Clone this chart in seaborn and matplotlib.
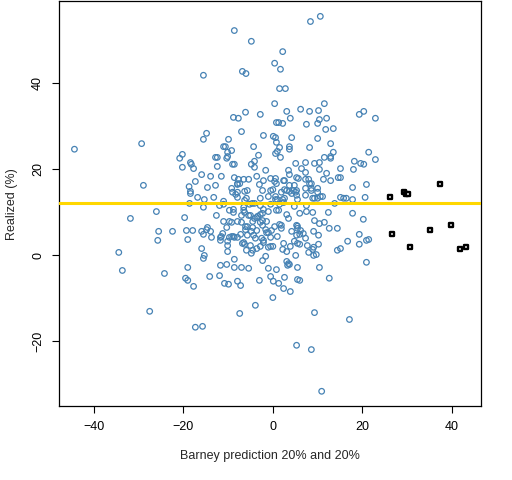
import numpy as np
import pandas as pd
import seaborn as sns
import matplotlib.pyplot as plt

# blue circles: (prediction, realized)
pred_x = [10.6, 8.4, -8.6, -4.8, 2.2, 0.4, 1.7, -6.8, -6.0, -15.5, 1.5, 2.8, 0.4, 11.5,
          6.2, 8.2, 10.2, 20.3, -6.1, 3.1, -2.8, 19.3, -8.8, -7.7, 3.9, 12.0, 10.4, 22.9,
          0.8, 1.3, 2.2, 7.5, 10.0, 11.8, 13.5, -7.0, -14.8, -2.1, 0.1, 0.6, 4.2, 10.0,
          -15.5, -9.9, -29.3, 12.9, 0.8, -11.0, -10.6, -4.3, 3.7, 3.7, 1.5, -44.3, 8.2,
          -9.2, -10.1, 13.5, 21.4, 0.6, 1.0, -20.2, -3.2, -10.1, -12.8, -12.4, 1.7, 11.5,
          12.9, 12.9, -20.8, -10.3, 22.9, -18.4, -18.2, 7.3, -4.1, 5.1, 18.2, 9.3, 10.4,
          -4.8, -9.0, -8.6, 19.6, 20.3, -12.4, -20.2, -4.1, -17.7, 6.4, 15.1, 10.4, 18.0,
          -1.6, 3.5, 7.3, 12.0, -15.9, 3.7, -13.9, -11.5, -3.6, -8.6, 14.6, 15.1, -0.5,
          0.6, 5.7, 5.3, -5.4, -6.5, -7.7, 7.3, 8.0, 11.3, -2.1, 2.4, 2.6, 12.9, -17.3,
          0.4, -7.9, -7.4, 0.8, 8.2, 8.6, -7.9, -3.0, 20.9, 3.7, 4.8, -18.7, -14.6, 17.8,
          -12.8, -9.2, -5.7, -6.3, 7.3, 8.6, 10.0, 0.0, -0.5, 2.6, 3.1, -2.3, 4.6, 5.3,
          8.6, -18.4, 3.7, -9.0, -7.9, 1.9, 5.1, 10.0, -18.4, 4.2, -8.3, 7.3, 5.3, -1.0,
          0.6, 10.6, 11.1, -16.8, -15.3, -13.2, 15.1, 15.8, 16.4, 20.6, -5.9, -7.9, -2.8,
          2.6, 2.2, 8.9, 9.3, 10.0, 0.6, 1.0, 17.8, -6.3, 5.5, -11.0, 2.4, -18.6, 13.8,
          -4.6, -4.1, -5.2, 1.5, -11.0, -11.9, -2.8, -0.5, 4.8, 7.5, -15.5, -6.5, -8.8,
          -9.7, -2.1, 0.8, 1.3, -6.5, -6.3, -26.0, -1.0, 7.5, 8.9, 12.4, 17.8, -8.8, 6.0,
          3.1, -2.3, -12.6, -7.0, -5.4, -5.0, -3.4, -2.8, -19.7, -3.6, -4.1, -31.8, 3.5,
          20.2, 9.3, -11.0, -9.7, -9.2, -7.9, -7.0, -4.5, -1.4, -2.8, -2.3, 11.5, 10.4,
          1.5, 1.9, 5.3, 5.5, -2.3, -6.1, -5.7, -10.3, -14.6, -4.5, 1.9, 0.4, 12.6, 14.4,
          5.5, -6.1, -1.6, -19.3, -17.9, -3.6, 6.2, -25.5, -22.4, -15.9, -13.9, -14.8,
          -4.8, 4.2, 9.1, -1.4, -1.0, -0.3, -11.2, 6.8, -15.5, -7.2, 6.0, 19.3, -4.3,
          -5.7, 10.2, -11.5, -9.2, -8.8, -9.7, 1.0, 5.3, -13.7, -11.7, -8.6, -7.9, 7.3,
          -2.5, -3.9, -19.0, 21.4, 20.9, -25.7, -11.7, -2.1, -0.5, -10.1, 16.7, 4.8,
          -6.5, -2.1, -6.8, -6.3, 2.4, 5.5, 6.0, 10.2, -10.1, -5.0, 7.7, 19.3, -2.8,
          -0.5, 0.0, 3.9, -1.0, 9.1, -15.9, 15.1, -3.6, 8.9, 2.2, 14.4, -4.5, -5.9,
          -10.1, 3.1, -34.4, 8.0, -4.8, 9.7, 9.1, -15.3, 5.1, -15.5, -1.6, -8.6, -2.3,
          3.1, 20.9, 3.5, 3.7, -10.3, -11.7, 3.3, -19.0, -8.6, -7.0, -5.4, 5.5, 10.4,
          -1.0, 0.8, -33.6, -24.2, -11.9, -14.1, -0.5, 2.6, -19.5, 12.6, 5.5, -19.0,
          -3.0, 6.0, -7.9, 0.1, -10.8, 1.3, -9.9, -7.2, -17.7, 2.4, 3.9, 0.0, -3.9,
          -27.5, 9.3, -7.4, 17.1, -15.7, -17.3, 5.3, 8.6, 10.9, -28.9]
realized = [55.6, 54.4, 52.3, 49.8, 47.4, 44.7, 43.3, 42.8, 42.3, 41.9, 38.8, 38.8, 35.3, 35.3,
            34.0, 33.5, 33.7, 33.5, 33.3, 33.5, 32.8, 32.8, 32.1, 31.9, 31.9, 31.9, 31.6, 31.9,
            30.9, 30.9, 30.7, 30.5, 30.7, 29.3, 29.5, 28.8, 28.4, 27.9, 27.7, 27.4, 27.4, 27.2,
            27.0, 27.0, 26.0, 26.0, 26.3, 25.3, 25.3, 25.3, 25.3, 24.7, 25.1, 24.7, 25.1,
            24.4, 24.0, 24.0, 24.0, 23.7, 24.2, 23.5, 23.3, 23.0, 22.8, 22.8, 22.8, 22.8,
            23.0, 22.6, 22.6, 22.6, 22.3, 21.6, 21.2, 21.6, 21.9, 21.4, 21.9, 21.4, 21.6,
            21.2, 21.2, 21.2, 21.4, 21.2, 20.7, 20.5, 20.5, 20.2, 20.2, 20.2, 20.0, 20.0,
            19.8, 19.8, 19.3, 19.1, 18.8, 18.8, 18.4, 18.4, 18.4, 18.1, 18.1, 18.1, 17.9,
            17.9, 17.9, 18.1, 17.7, 17.7, 17.7, 17.7, 17.7, 17.7, 17.4, 17.4, 17.4, 17.4, 17.2,
            17.2, 16.7, 16.7, 16.7, 16.7, 16.7, 16.5, 16.5, 16.5, 16.3, 16.3, 16.0, 15.8, 15.8,
            16.3, 15.6, 15.1, 14.9, 15.6, 15.6, 15.6, 15.3, 15.1, 15.3, 15.1, 15.1, 15.1, 15.1,
            15.1, 14.9, 14.9, 14.7, 14.7, 14.7, 14.7, 14.7, 14.4, 14.4, 14.2, 14.0, 14.0, 13.7,
            13.7, 13.7, 13.7, 13.5, 13.0, 13.5, 13.5, 13.3, 13.3, 13.5, 13.3, 13.5, 13.3,
            13.3, 13.0, 13.3, 13.3, 13.3, 13.0, 13.0, 13.0, 12.8, 13.0, 12.6, 12.3, 12.1, 12.1,
            12.1, 12.1, 11.9, 11.9, 11.9, 11.6, 11.6, 11.9, 11.4, 11.6, 11.2, 11.2, 10.7,
            10.5, 10.7, 10.5, 10.5, 10.5, 10.0, 10.2, 10.2, 10.2, 10.0, 10.0, 9.8, 10.0, 9.8,
            9.5, 9.8, 9.3, 9.3, 9.3, 9.3, 9.1, 9.5, 8.8, 8.8, 8.6, 8.6, 8.6,
            8.4, 8.1, 7.9, 7.9, 7.7, 7.9, 7.7, 7.9, 7.9, 7.7, 8.1, 7.7, 7.4,
            7.2, 7.0, 7.0, 6.8, 7.0, 6.7, 6.7, 6.5, 6.5, 6.5, 6.3, 6.7, 6.3, 6.3,
            6.3, 6.0, 6.0, 5.8, 5.8, 5.8, 5.8, 5.6, 5.6, 5.6, 5.6, 6.0,
            5.6, 5.6, 5.6, 5.3, 5.3, 5.8, 5.1, 5.1, 4.9, 4.9, 4.9, 4.9, 4.7,
            4.7, 4.7, 4.4, 4.4, 4.4, 4.2, 4.4, 4.7, 4.2, 4.2, 4.2, 4.2, 4.0,
            4.0, 4.0, 3.7, 3.7, 3.5, 3.5, 3.5, 3.5, 4.2, 3.3, 3.3, 3.3,
            3.0, 3.0, 2.8, 2.6, 2.8, 2.8, 2.6, 2.6, 2.3, 2.3, 2.3, 2.6, 2.1,
            2.1, 2.1, 2.1, 1.9, 1.9, 1.6, 1.6, 1.6, 1.4, 1.4, 1.2, 1.2, 1.2,
            0.9, 0.9, 0.7, 0.7, 0.5, 0.2, 0.0, 0.0, 0.0, -0.7, -0.2, -0.9, -1.2,
            -1.4, -1.6, -1.9, -2.1, -2.1, -2.3, -2.3, -2.8, -2.8, -2.8, -3.0, -2.8, -2.8,
            -3.0, -3.3, -3.5, -4.2, -4.7, -4.9, -4.9, -5.1, -5.3, -5.3, -5.6, -5.8,
            -5.8, -5.8, -6.0, -6.0, -6.5, -6.5, -6.7, -7.0, -7.2, -7.7, -8.4, -9.8, -11.6,
            -13.0, -13.3, -13.5, -14.9, -16.5, -16.7, -20.9, -21.9, -31.6, 16.3]

# black squares
sq_x = [26.2, 26.5, 29.3, 29.8, 30.2, 30.7, 35.0, 37.4, 39.8, 41.8, 43.2]
sq_y = [13.5, 4.9, 14.7, 14.4, 14.4, 1.9, 6.0, 16.7, 7.0, 1.4, 1.9]

mean_realized = 12.3

assert len(pred_x) == len(realized), (len(pred_x), len(realized))
df = pd.DataFrame({"pred": pred_x, "real": realized})
sq = pd.DataFrame({"pred": sq_x, "real": sq_y})

sns.set_style("white")
plt.rcParams["font.family"] = ["Liberation Sans", "DejaVu Sans"]

fig = plt.figure(figsize=(5.12, 4.8), dpi=100)
ax = fig.add_axes([0.116, 0.154, 0.824, 0.843])

sns.scatterplot(data=df, x="pred", y="real", ax=ax, marker="o", s=16,
                facecolor="none", edgecolor="#4682B4", linewidth=0.9)
ax.axhline(mean_realized, color="#FFD700", lw=2.2, zorder=3)
sns.scatterplot(data=sq, x="pred", y="real", ax=ax, marker="s", s=9,
                facecolor="white", edgecolor="black", linewidth=1.7, zorder=4)

ax.set_xlim(-47.66, 46.54)
ax.set_ylim(-35.04, 59.07)
ax.set_xticks([-40, -20, 0, 20, 40])
ax.set_yticks([-20, 0, 20, 40])
ax.tick_params(axis="both", direction="out", length=5, width=0.8, labelsize=9,
               color="black", labelcolor="black", pad=6, left=True, bottom=True)
for lab in ax.get_yticklabels():
    lab.set_rotation(90)
    lab.set_va("center")
for s in ax.spines.values():
    s.set_color("black")
    s.set_linewidth(0.9)
ax.set_xlabel("Barney prediction 20% and 20%", fontsize=9, labelpad=12)
ax.set_ylabel("Realized (%)", fontsize=9, labelpad=10)

fig.savefig("out.png", dpi=100)
